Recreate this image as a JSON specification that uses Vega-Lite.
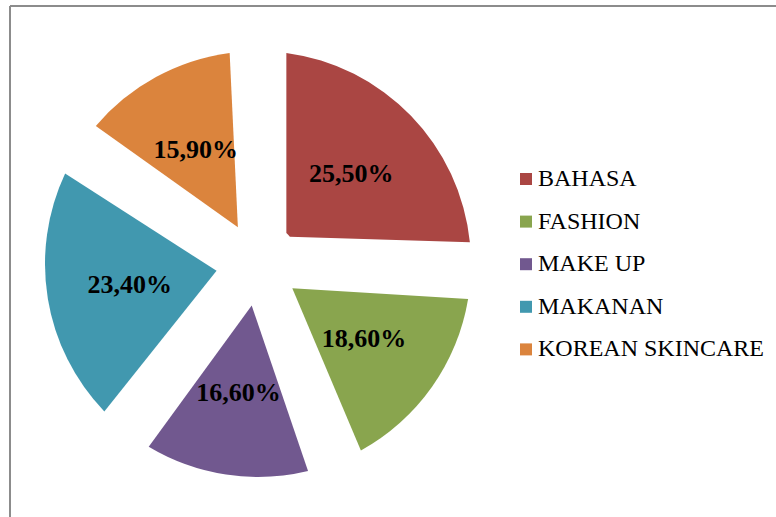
{
  "$schema": "https://vega.github.io/schema/vega-lite/v6.json",
  "autosize": {"type": "none"},
  "padding": {"left": 10, "top": 6, "right": 0, "bottom": 0},
  "width": 780,
  "height": 520,
  "background": "white",
  "config": {
    "view": {"stroke": null},
    "locale": {"number": {"decimal": ",", "thousands": ".", "grouping": [3], "currency": ["", ""]}}
  },
  "data": {
    "values": [
      {"kategori": "BAHASA", "share": 0.255, "rank": 1},
      {"kategori": "FASHION", "share": 0.186, "rank": 2},
      {"kategori": "MAKE UP", "share": 0.166, "rank": 3},
      {"kategori": "MAKANAN", "share": 0.234, "rank": 4},
      {"kategori": "KOREAN SKINCARE", "share": 0.159, "rank": 5}
    ]
  },
  "layer": [
    {
      "mark": {"type": "arc", "x": 248, "y": 258, "innerRadius": 42, "outerRadius": 213, "padAngle": 0.262},
      "encoding": {
        "theta": {"field": "share", "type": "quantitative", "stack": true},
        "order": {"field": "rank", "type": "quantitative"},
        "color": {
          "field": "kategori",
          "type": "nominal",
          "scale": {
            "domain": ["BAHASA", "FASHION", "MAKE UP", "MAKANAN", "KOREAN SKINCARE"],
            "range": ["#AA4643", "#89A54E", "#71588F", "#4198AF", "#DB843D"]
          },
          "legend": {
            "orient": "none",
            "legendX": 504,
            "legendY": 161,
            "title": null,
            "symbolType": "square",
            "symbolSize": 144,
            "symbolStrokeWidth": 0,
            "symbolOpacity": 1,
            "labelFont": "Liberation Serif",
            "labelFontSize": 24,
            "labelColor": "black",
            "labelOffset": 0,
            "rowPadding": 18.6,
            "labelLimit": 400
          }
        }
      }
    },
    {
      "mark": {"type": "text", "x": 248, "y": 258, "radius": 130, "font": "Liberation Serif", "fontWeight": "bold", "fontSize": 26, "color": "black"},
      "encoding": {
        "theta": {"field": "share", "type": "quantitative", "stack": true},
        "order": {"field": "rank", "type": "quantitative"},
        "text": {"field": "share", "type": "quantitative", "format": ".2%"}
      }
    },
    {
      "data": {"values": [{"frame": "left"}]},
      "mark": {"type": "rule", "color": "#8c8c8c", "strokeWidth": 2},
      "encoding": {"x": {"value": 0}}
    },
    {
      "data": {"values": [{"frame": "top"}]},
      "mark": {"type": "rule", "color": "#8c8c8c", "strokeWidth": 2},
      "encoding": {"y": {"value": 0}}
    }
  ]
}
